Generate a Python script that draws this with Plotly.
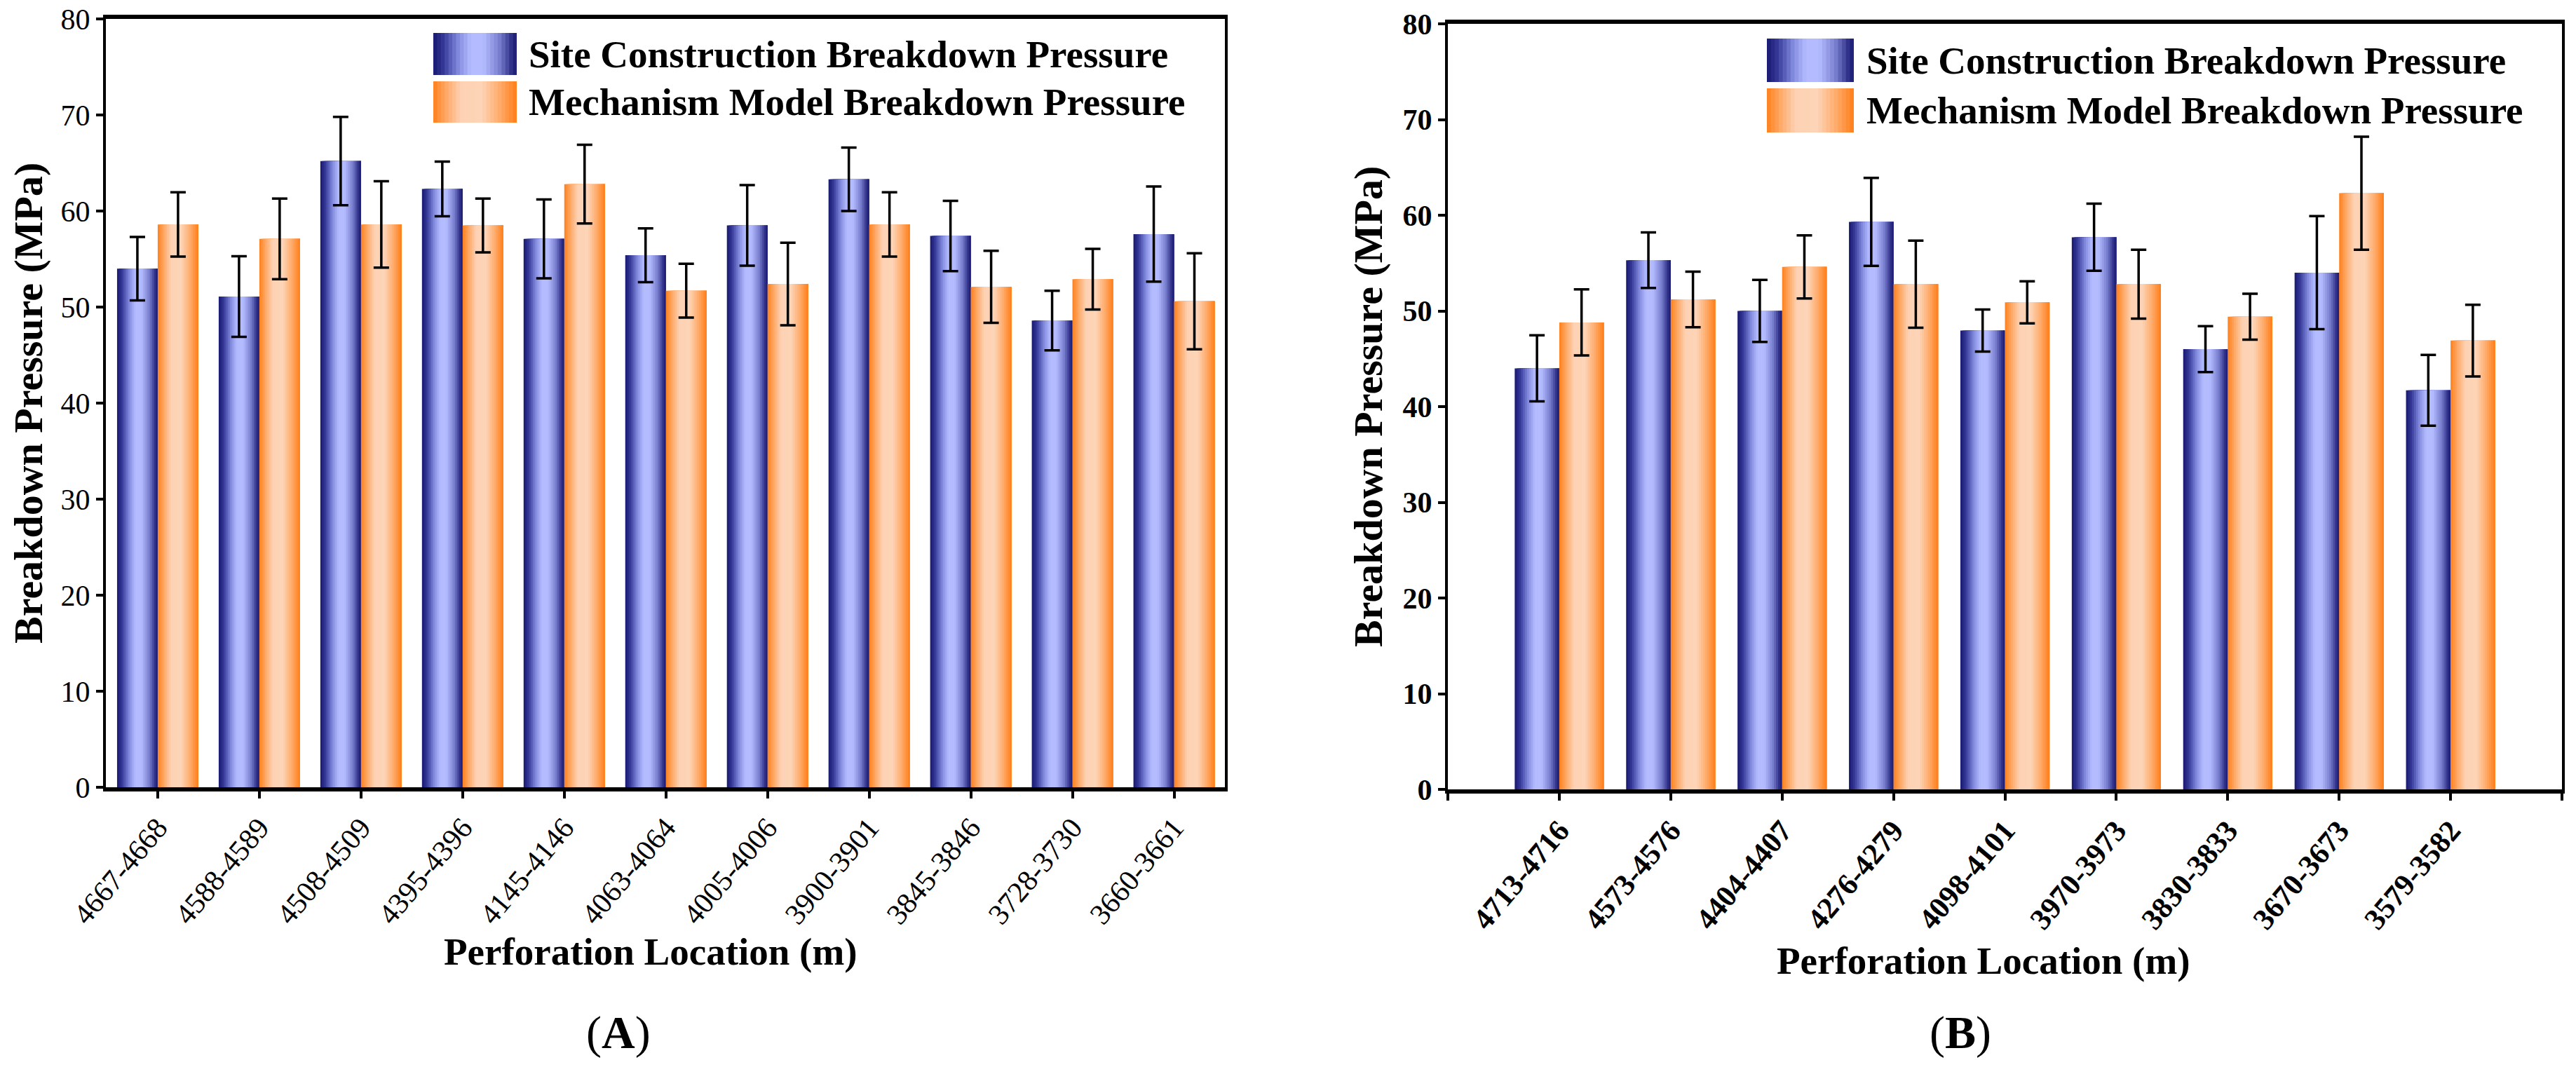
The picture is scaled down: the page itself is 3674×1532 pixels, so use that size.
import plotly.graph_objects as go

# ---------------- data ----------------
cats_a = ["4667-4668", "4588-4589", "4508-4509", "4395-4396", "4145-4146", "4063-4064",
          "4005-4006", "3900-3901", "3845-3846", "3728-3730", "3660-3661"]
site_a = [54.0, 51.1, 65.2, 62.3, 57.1, 55.4, 58.5, 63.3, 57.4, 48.6, 57.6]
site_a_err = [3.3, 4.2, 4.6, 2.85, 4.1, 2.8, 4.2, 3.3, 3.65, 3.1, 4.95]
model_a = [58.6, 57.1, 58.6, 58.5, 62.8, 51.7, 52.4, 58.6, 52.1, 52.9, 50.6]
model_a_err = [3.35, 4.2, 4.5, 2.8, 4.1, 2.8, 4.3, 3.35, 3.75, 3.15, 5.0]

cats_b = ["4713-4716", "4573-4576", "4404-4407", "4276-4279", "4098-4101",
          "3970-3973", "3830-3833", "3670-3673", "3579-3582"]
site_b = [44.0, 55.3, 50.0, 59.3, 47.95, 57.7, 46.0, 54.0, 41.7]
site_b_err = [3.45, 2.9, 3.25, 4.6, 2.2, 3.5, 2.4, 5.9, 3.7]
model_b = [48.8, 51.2, 54.6, 52.8, 50.9, 52.8, 49.4, 62.3, 46.9]
model_b_err = [3.45, 2.9, 3.3, 4.55, 2.2, 3.6, 2.4, 5.9, 3.75]

series_names = ["Site Construction Breakdown Pressure", "Mechanism Model Breakdown Pressure"]
x_title = "Perforation Location (m)"
y_title = "Breakdown Pressure (MPa)"
y_ticks = [0, 10, 20, 30, 40, 50, 60, 70, 80]

# ---------------- styling ----------------
W, H = 3674, 1532
FONT = "Liberation Serif, Times New Roman, serif"

BLUE_STOPS = [(0.0, (24, 24, 110)), (0.12, (52, 56, 150)), (0.3, (130, 138, 222)),
              (0.45, (180, 188, 255)), (0.6, (180, 188, 255)), (0.8, (118, 124, 204)),
              (0.93, (50, 52, 140)), (1.0, (26, 26, 112))]
ORANGE_STOPS = [(0.0, (255, 128, 28)), (0.14, (255, 165, 95)), (0.33, (253, 210, 180)),
                (0.58, (253, 212, 183)), (0.8, (255, 170, 105)), (1.0, (255, 126, 24))]


def grad(stops, t):
    for (t0, c0), (t1, c1) in zip(stops[:-1], stops[1:]):
        if t0 <= t <= t1:
            f = (t - t0) / (t1 - t0) if t1 > t0 else 0
            c = [round(a + (b - a) * f) for a, b in zip(c0, c1)]
            return "rgb(%d,%d,%d)" % tuple(c)
    return "rgb(%d,%d,%d)" % stops[-1][1]


def px(x):
    return x / W


def py(y):
    return 1 - y / H


K = 22
BW = 0.4

fig = go.Figure()


def add_panel(cats, s_vals, s_err, m_vals, m_err, xa, ya):
    xs = list(range(len(cats)))
    for vals, stops, base in ((s_vals, BLUE_STOPS, -BW), (m_vals, ORANGE_STOPS, 0.0)):
        for k in range(K):
            fig.add_trace(go.Bar(
                x=xs, y=vals, xaxis=xa, yaxis=ya,
                offset=base + k * BW / K, width=BW * (1 - k / K),
                marker=dict(color=grad(stops, (k + 0.5) / K), line=dict(width=0)),
                showlegend=False, hoverinfo="skip"))
    for vals, err, base, name in ((s_vals, s_err, -BW, series_names[0]),
                                  (m_vals, m_err, 0.0, series_names[1])):
        fig.add_trace(go.Bar(
            x=xs, y=vals, xaxis=xa, yaxis=ya, offset=base, width=BW, name=name,
            marker=dict(color="rgba(0,0,0,0)", line=dict(width=0)),
            error_y=dict(type="data", array=err, visible=True, color="black",
                         thickness=3.5, width=11),
            showlegend=False))


add_panel(cats_a, site_a, site_a_err, model_a, model_a_err, "x", "y")
add_panel(cats_b, site_b, site_b_err, model_b, model_b_err, "x2", "y2")

axis_common = dict(showgrid=False, zeroline=False, showline=True, mirror=True,
                   linecolor="black", ticks="outside", tickcolor="black", automargin=False)

fig.update_layout(
    width=W, height=H, margin=dict(l=0, r=0, t=0, b=0, autoexpand=False),
    paper_bgcolor="white", plot_bgcolor="white", barmode="overlay",
    showlegend=False, font=dict(family=FONT, color="black"),
    xaxis=dict(domain=[px(151), px(1747)], anchor="y", range=[-0.51, 10.5],
               tickvals=list(range(len(cats_a))), ticktext=cats_a, tickangle=-50,
               ticklen=10, tickwidth=4, linewidth=6,
               tickfont=dict(family=FONT, size=42, color="black"), **axis_common),
    yaxis=dict(domain=[py(1123), py(27)], anchor="x", range=[0, 80], tickvals=y_ticks,
               ticklen=10, tickwidth=4, linewidth=4,
               tickfont=dict(family=FONT, size=42, color="black"), **axis_common),
    xaxis2=dict(domain=[px(2065), px(3654)], anchor="y2", range=[-1, 9],
                tickvals=list(range(-1, len(cats_b) + 1)), ticktext=[""] + cats_b + [""],
                tickangle=-50, ticklen=10, tickwidth=4, linewidth=6,
                tickfont=dict(family=FONT, size=43, color="black", weight="bold"),
                **axis_common),
    yaxis2=dict(domain=[py(1126), py(34)], anchor="x2", range=[0, 80], tickvals=y_ticks,
                ticklen=10, tickwidth=4, linewidth=4,
                tickfont=dict(family=FONT, size=42, color="black", weight="bold"),
                **axis_common),
)

annotations = []
shapes = []

# axis titles and panel labels
for (xc, yc) in ((41, 575), (1951, 580)):
    annotations.append(dict(x=px(xc), y=py(yc), xref="paper", yref="paper",
                            xanchor="center", yanchor="middle",
                            text="<b>%s</b>" % y_title, textangle=-90, showarrow=False,
                            font=dict(family=FONT, size=58, color="black")))
for (xc, yc) in ((928, 1357), (2829, 1370)):
    annotations.append(dict(x=px(xc), y=py(yc), xref="paper", yref="paper",
                            xanchor="center", yanchor="middle",
                            text="<b>%s</b>" % x_title, showarrow=False,
                            font=dict(family=FONT, size=55, color="black")))
for (lab, xc) in (("A", 882), ("B", 2796)):
    annotations.append(dict(x=px(xc), y=py(1473), xref="paper", yref="paper",
                            xanchor="center", yanchor="middle",
                            text="(<b>%s</b>)" % lab, showarrow=False,
                            font=dict(family=FONT, size=66, color="black")))

# manual legends with gradient swatches
legend_specs = [
    (618, 737, [(47, 107), (116, 175)], 752),
    (2520, 2644, [(55, 117), (126, 189)], 2660),
]
for x0, x1, rows, tx in legend_specs:
    for (y0, y1), stops, name in zip(rows, (BLUE_STOPS, ORANGE_STOPS), series_names):
        for k in range(K):
            xs0 = x0 + (x1 - x0) * k / K
            shapes.append(dict(type="rect", xref="paper", yref="paper",
                               x0=px(xs0), x1=px(x1), y0=py(y1), y1=py(y0),
                               fillcolor=grad(stops, (k + 0.5) / K), line=dict(width=0)))
        annotations.append(dict(x=px(tx), y=py((y0 + y1) / 2), xref="paper", yref="paper",
                                xanchor="left", yanchor="middle", text="<b>%s</b>" % name,
                                showarrow=False,
                                font=dict(family=FONT, size=55, color="black")))

fig.update_layout(annotations=annotations, shapes=shapes)
fig.write_html("out.html")
